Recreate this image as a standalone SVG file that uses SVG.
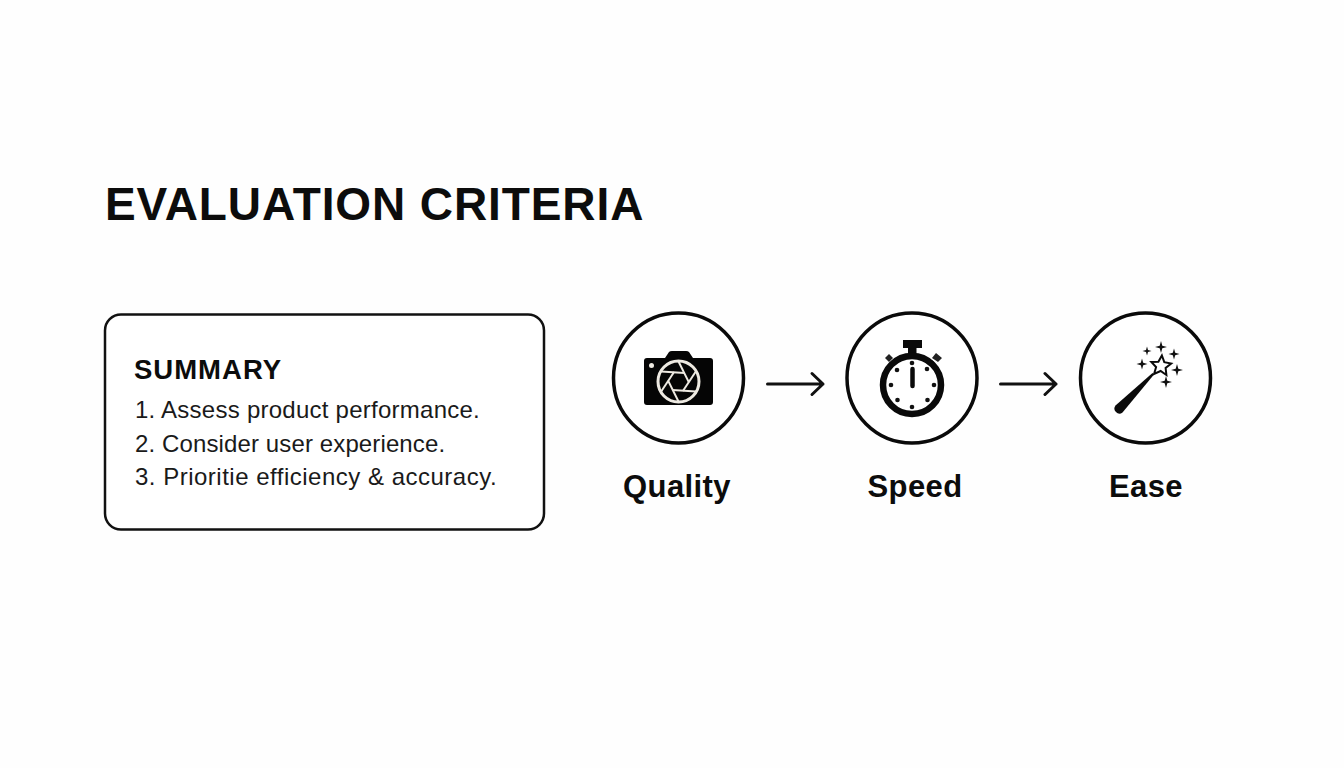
<svg xmlns="http://www.w3.org/2000/svg" width="1344" height="768" viewBox="0 0 1344 768">
<style>
text{font-family:"Liberation Sans",Arial,sans-serif;fill:#0c0c0c}
.b{font-weight:700}
.ring{fill:#fff;stroke:#0a0a0a;stroke-width:3.5}
.lab{font-size:31px;font-weight:700;text-anchor:middle;letter-spacing:.4px}
.item{font-size:24px;fill:#1a1a1a}
.conn{fill:none;stroke:#111;stroke-width:3;stroke-linecap:round;stroke-linejoin:round}
.blade{fill:none;stroke:#eeeae2;stroke-width:2}
</style>
<rect width="1344" height="768" fill="#fefefe"/>
<text id="title" class="b" x="105" y="220" font-size="46" letter-spacing=".9">EVALUATION CRITERIA</text>
<g id="summary">
<rect x="105" y="314.500" width="439" height="215" rx="16" fill="#fff" stroke="#111" stroke-width="2.500"/>
<text class="b" x="134" y="379" font-size="27.500" letter-spacing="1">SUMMARY</text>
<text class="item" x="135" y="418" letter-spacing=".25">1. Assess product performance.</text>
<text class="item" x="135" y="452" letter-spacing=".12">2. Consider user experience.</text>
<text class="item" x="135" y="485" letter-spacing=".5">3. Prioritie efficiency &amp; accuracy.</text>
</g>
<g id="quality">
<circle class="ring" cx="678.500" cy="378" r="65"/>
<path d="M647 358H665L669 352Q670 351 672 351H686Q688 351 689 352L693 358H710Q713 358 713 361V402Q713 405 710 405H647Q644 405 644 402V361Q644 358 647 358Z" fill="#050505"/>
<circle cx="651.500" cy="365.500" r="2.500" fill="#eeeae2"/>
<g transform="translate(678.500 381.500)">
<circle r="20.500" fill="#050505" stroke="#eeeae2" stroke-width="3"/>
<path class="blade" d="M0 -20L10.400 .9"/>
<path class="blade" d="M0 -20L10.400 .9" transform="rotate(60)"/>
<path class="blade" d="M0 -20L10.400 .9" transform="rotate(120)"/>
<path class="blade" d="M0 -20L10.400 .9" transform="rotate(180)"/>
<path class="blade" d="M0 -20L10.400 .9" transform="rotate(240)"/>
<path class="blade" d="M0 -20L10.400 .9" transform="rotate(300)"/>
</g>
<text class="lab" x="677" y="497">Quality</text>
</g>
<g id="speed">
<circle class="ring" cx="912" cy="378" r="65"/>
<path d="M903 340H922V348H916.500V355H908V348H903Z" fill="#0a0a0a"/>
<path d="M885 358L889 354L893 358L889 362ZM932 358L936 353L942 358L938 362Z" fill="#222"/>
<path d="M892 362L896 367M933 361L929 366" stroke="#0a0a0a" stroke-width="3"/>
<circle cx="912" cy="385" r="29" fill="#fff" stroke="#0a0a0a" stroke-width="6.500"/>
<path d="M912.500 369V386" stroke="#0a0a0a" stroke-width="4.500" stroke-linecap="round"/>
<g fill="#111"><circle cx="912" cy="363" r="2.300"/><circle cx="897" cy="370" r="2.300"/><circle cx="927" cy="369" r="2.300"/><circle cx="891" cy="385" r="2.300"/><circle cx="934" cy="385" r="2.300"/><circle cx="897.500" cy="400" r="2.300"/><circle cx="927.500" cy="400" r="2.300"/><circle cx="912" cy="407" r="2.300"/></g>
<text class="lab" x="915" y="497">Speed</text>
</g>
<g id="ease">
<circle class="ring" cx="1145.500" cy="378" r="65"/>
<path d="M1115.500 405.500L1152.500 373L1154 374.500L1122.500 412.500A5 5 0 0 1 1115.500 405.500Z" fill="#0a0a0a"/>
<path d="M1161.900 355.500L1164.300 362.200L1171.200 363.600L1165.600 368L1166.400 375L1160.600 371L1154.100 373.900L1156.100 367.100L1151.300 361.900L1158.400 361.700Z" fill="#fff" stroke="#0a0a0a" stroke-width="2"/>
<g fill="#111">
<path d="M1147 346.500L1148 350L1151.500 351L1148 352L1147 355.500L1146 352L1142.500 351L1146 350Z"/>
<path d="M1161 341L1162.300 345.700L1167 347L1162.300 348.300L1161 353L1159.700 348.300L1155 347L1159.700 345.700Z"/>
<path d="M1174 348.500L1175.200 352.800L1179.500 354L1175.200 355.200L1174 359.500L1172.800 355.200L1168.500 354L1172.800 352.800Z"/>
<path d="M1142 358.500L1143.200 362.800L1147.500 364L1143.200 365.200L1142 369.500L1140.800 365.200L1136.500 364L1140.800 362.800Z"/>
<path d="M1177 364L1178.300 368.700L1183 370L1178.300 371.300L1177 376L1175.700 371.300L1171 370L1175.700 368.700Z"/>
<path d="M1166 376L1167.300 380.700L1172 382L1167.300 383.300L1166 388L1164.700 383.300L1160 382L1164.700 380.700Z"/>
</g>
<text class="lab" x="1146" y="497">Ease</text>
</g>
<g id="connectors">
<path class="conn" d="M767.500 384H823M812 373.500L823 384L812 394.500"/>
<path class="conn" d="M1000.500 384H1056M1045 373.500L1056 384L1045 394.500"/>
</g>
</svg>
